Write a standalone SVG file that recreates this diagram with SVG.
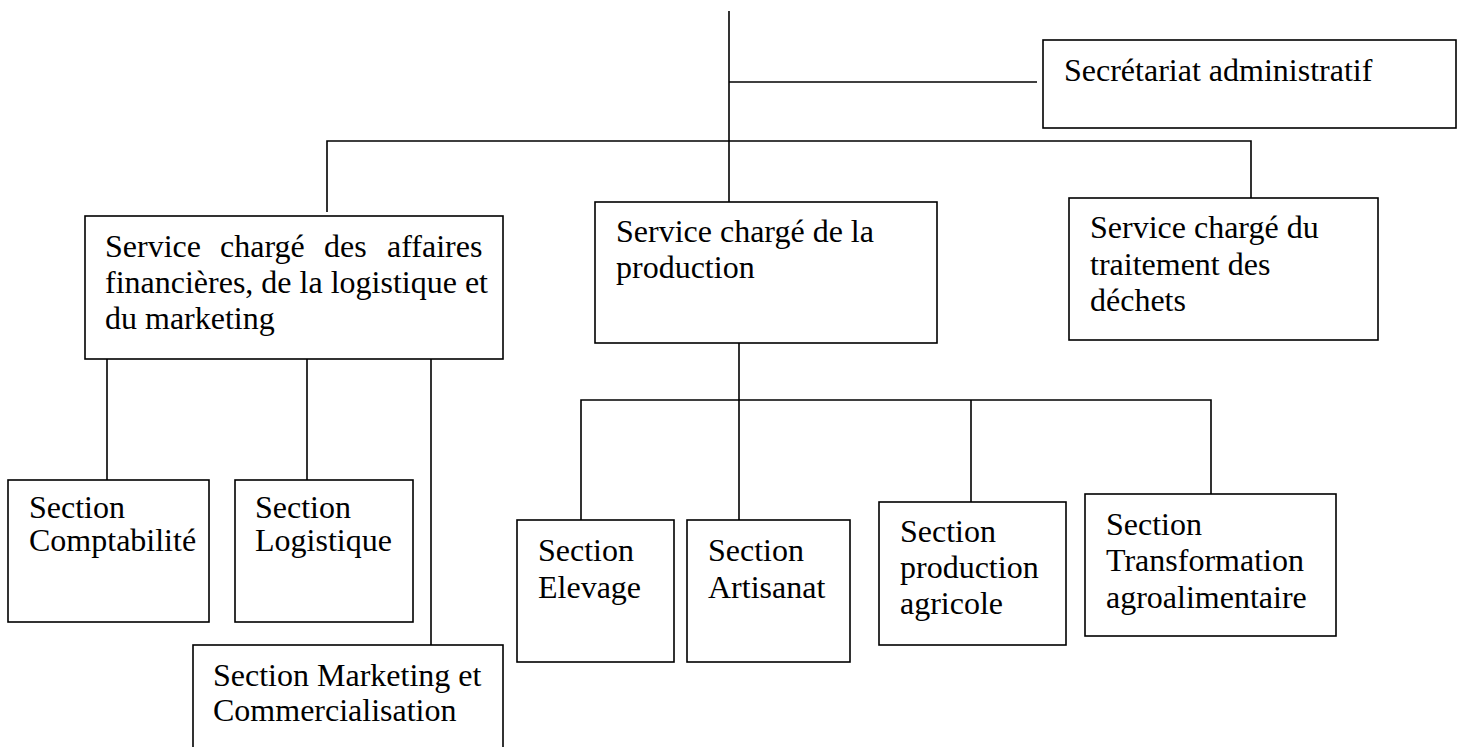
<svg xmlns="http://www.w3.org/2000/svg" width="1465" height="747" viewBox="0 0 1465 747">
<style>
.box{fill:#fff;stroke:#000;stroke-width:1.6}
.ln{stroke:#000;stroke-width:1.6;fill:none}
text{font-family:"Liberation Serif","Times New Roman",serif;font-size:32px;fill:#000}
</style>
<rect width="1465" height="747" fill="#fff"/>
<g id="connectors">
<line class="ln" x1="729" y1="11" x2="729" y2="202"/>
<line class="ln" x1="729" y1="82" x2="1037" y2="82"/>
<polyline class="ln" points="327,212 327,141 1251,141 1251,198"/>
<line class="ln" x1="107" y1="359" x2="107" y2="480"/>
<line class="ln" x1="307" y1="359" x2="307" y2="480"/>
<line class="ln" x1="431" y1="359" x2="431" y2="645"/>
<line class="ln" x1="739" y1="343" x2="739" y2="520"/>
<polyline class="ln" points="581,520 581,400 1211,400 1211,494"/>
<line class="ln" x1="971" y1="400" x2="971" y2="502"/>
</g>
<g id="secretariat">
<rect class="box" x="1043" y="40" width="413" height="88"/>
<text x="1064" y="81">Secrétariat administratif</text>
</g>
<g id="finance">
<rect class="box" x="85" y="216" width="418" height="143"/>
<text y="257"><tspan x="105">Service</tspan><tspan x="220">chargé</tspan><tspan x="324">des</tspan><tspan x="387">affaires</tspan></text>
<text x="105" y="293">financières, de la logistique et</text>
<text x="105" y="329">du marketing</text>
</g>
<g id="production">
<rect class="box" x="595" y="202" width="342" height="141"/>
<text x="616" y="242">Service chargé de la</text>
<text x="616" y="278">production</text>
</g>
<g id="dechets">
<rect class="box" x="1069" y="198" width="309" height="142"/>
<text x="1090" y="238">Service chargé du</text>
<text x="1090" y="275">traitement des</text>
<text x="1090" y="311">déchets</text>
</g>
<g id="comptabilite">
<rect class="box" x="8" y="480" width="201" height="142"/>
<text x="29" y="518">Section</text>
<text x="29" y="551">Comptabilité</text>
</g>
<g id="logistique">
<rect class="box" x="235" y="480" width="178" height="142"/>
<text x="255" y="518">Section</text>
<text x="255" y="551">Logistique</text>
</g>
<g id="marketing">
<rect class="box" x="193" y="645" width="310" height="120"/>
<text x="213" y="686">Section Marketing et</text>
<text x="213" y="721">Commercialisation</text>
</g>
<g id="elevage">
<rect class="box" x="517" y="520" width="157" height="142"/>
<text x="538" y="561">Section</text>
<text x="538" y="598">Elevage</text>
</g>
<g id="artisanat">
<rect class="box" x="687" y="520" width="163" height="142"/>
<text x="708" y="561">Section</text>
<text x="708" y="598">Artisanat</text>
</g>
<g id="agricole">
<rect class="box" x="879" y="502" width="187" height="143"/>
<text x="900" y="542">Section</text>
<text x="900" y="578">production</text>
<text x="900" y="614">agricole</text>
</g>
<g id="transformation">
<rect class="box" x="1085" y="494" width="251" height="142"/>
<text x="1106" y="535">Section</text>
<text x="1106" y="571">Transformation</text>
<text x="1106" y="608">agroalimentaire</text>
</g>
</svg>
